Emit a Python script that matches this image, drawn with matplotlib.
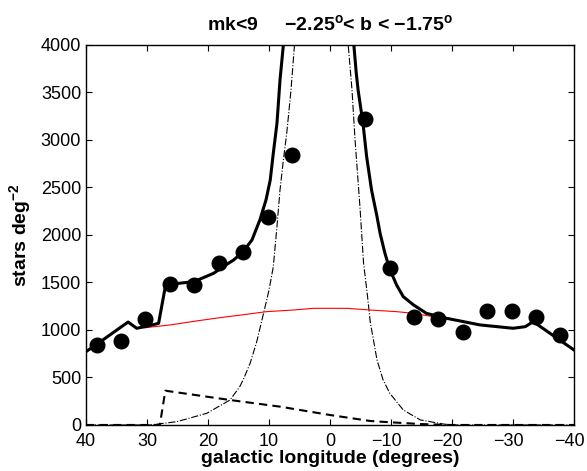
import numpy as np
import matplotlib.pyplot as plt
from matplotlib.transforms import ScaledTranslation

plt.rcParams['font.family'] = ['Liberation Sans', 'DejaVu Sans']
plt.rcParams['mathtext.fontset'] = 'custom'
plt.rcParams['mathtext.rm'] = 'Liberation Sans'
plt.rcParams['mathtext.bf'] = 'Liberation Sans:bold'

# observed star counts
obs_l = [38.25, 34.25, 30.25, 26.25, 22.25, 18.25, 14.25, 10.25, 6.25,
         -5.75, -9.75, -13.75, -17.75, -21.75, -25.75, -29.75, -33.75, -37.75]
obs_n = [842, 884, 1113, 1481, 1474, 1705, 1821, 2193, 2842,
         3221, 1653, 1140, 1113, 982, 1200, 1200, 1134, 951]

# total model (solid)
tot_l = [40, 38.4, 33.1, 31.7, 30.3, 28.1, 27.0, 26.4, 22.3, 19.1, 17.5, 15.8, 14.3,
         12.8, 11.5, 10.5, 9.8, 9.3, 8.7, 8.2, 7.65, 7.3, 1.9, -3.5, -3.9, -4.3, -4.6,
         -5.4, -6.0, -6.8, -7.7, -8.2, -9.0, -9.7, -10.9, -12.0, -13.7, -15.8, -19.1,
         -24.6, -30.0, -32.0, -33.3, -40]
tot_n = [772, 842, 1084, 1018, 1035, 1070, 1456, 1480, 1509, 1596, 1667, 1737, 1821,
         1947, 2158, 2368, 2579, 2860, 3175, 3632, 4000, 4500, 6000, 4500, 4000, 3702, 3526,
         3175, 2824, 2474, 2193, 2018, 1807, 1656, 1474, 1351, 1263, 1175, 1123,
         1053, 1018, 1035, 1088, 789]

# disc component (red)
disc_l = [30.3, 26.2, 21.9, 18.0, 13.7, 10.4, 6.0, 2.7, -2.7, -6.6, -10.9, -13.7, -16.9]
disc_n = [1024, 1053, 1095, 1130, 1165, 1193, 1210, 1228, 1228, 1210, 1193, 1175, 1140]

# bulge component (dash-dot)
bul_l = [40, 29.5, 25.1, 20.2, 16.4, 14.8, 14.2, 13.1, 12.0, 10.9, 10.0, 9.3, 8.7,
         8.2, 7.65, 7.1, 6.4, 5.85, 5.5, 1.4, -2.7, -3.0, -3.6, -4.1, -4.5, -4.9,
         -5.5, -6.1, -6.6, -7.7, -8.7, -9.8, -12.0, -14.8, -18.6, -20, -40]
bul_n = [0, 0, 35, 123, 263, 403, 481, 649, 880, 1175, 1420, 1666, 2088,
         2474, 2789, 3070, 3526, 3982, 4500, 6000, 4500, 3982, 3526, 3000, 2650, 2298,
         1700, 1380, 1080, 684, 474, 333, 158, 53, 10, 0, 0]

# bar component (dashed)
bar_l = [40, 27.9, 27.0, 16.4, 8.2, 0, -6.6, -8.2, -14.8, -19.7, -40]
bar_n = [0, 0, 361, 263, 193, 105, 42, 35, 10, 0, 0]

fig = plt.figure(figsize=(5.87, 4.71), dpi=100)
ax = fig.add_axes([0.1465, 0.0977, 0.8315, 0.8068])

ax.plot(bul_l, bul_n, color='black', linestyle='-.', linewidth=0.8)
ax.plot(bar_l, bar_n, color='black', linestyle='--', linewidth=1.5, dashes=(4, 2.5))
ax.plot(disc_l, disc_n, color='red', linewidth=0.8)
ax.plot(tot_l, tot_n, color='black', linewidth=2.2)
ax.plot(obs_l, obs_n, 'o', color='black', markersize=10.5)

ax.set_xlim(40, -40)
ax.set_ylim(0, 4000)
ax.set_xticks(np.arange(40, -41, -10))
ax.set_yticks(np.arange(0, 4001, 500))
ax.tick_params(direction='in', top=True, right=True, labelsize=13, length=4)
ax.tick_params(axis='x', pad=6)
for s in ax.spines.values():
    s.set_linewidth(1.0)

# matlab-style: digits of negative labels centred on the tick
fig.canvas.draw()
shift = ScaledTranslation(-5 / 100, 0, fig.dpi_scale_trans)
for lab, val in zip(ax.get_xticklabels(), ax.get_xticks()):
    if val < 0:
        lab.set_transform(lab.get_transform() + shift)

ax.set_xlabel('galactic longitude (degrees)', fontsize=14, fontweight='bold', labelpad=0)
ax.set_ylabel(r'stars deg$^{\mathbf{-2}}$', fontsize=14, fontweight='bold', labelpad=5)
ax.set_title(r'mk<9     $\mathbf{-}$2.25$^{\mathbf{o}}$< b < $\mathbf{-}$1.75$^{\mathbf{o}}$',
             fontsize=14, fontweight='bold', pad=10)

fig.savefig('out.png', dpi=100)
